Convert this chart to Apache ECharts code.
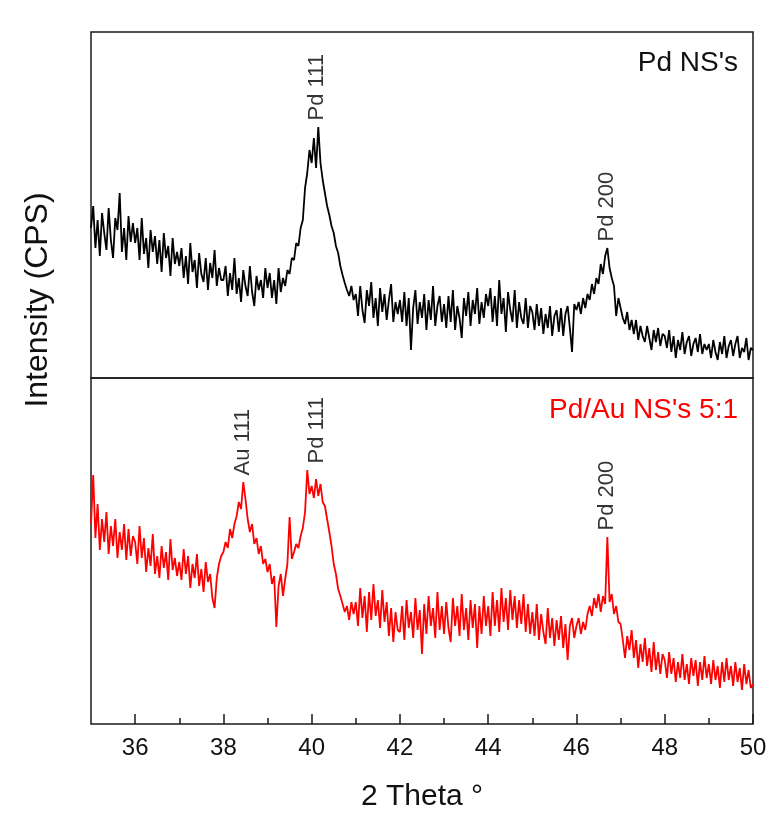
<!DOCTYPE html>
<html>
<head>
<meta charset="utf-8">
<script src="https://cdn.jsdelivr.net/npm/echarts@6/dist/echarts.min.js"></script>
<style>
html,body{margin:0;padding:0;background:#fff;}
#chart{width:775px;height:816px;}
</style>
</head>
<body>
<div id="chart"></div>
<script>
// 2-theta sampling grid: 35.00 .. 50.00, step 0.05
const thetaStart = 35;
const thetaStep = 0.05;
const thetaCount = 301;

// Intensity (arbitrary units), Pd NS's (black)
const pdNS = [
150,172,130,158,122,165,145,128,170,138,120,160,148,185,126,150,118,162,136,155,
135,150,118,160,124,140,110,148,126,142,114,138,106,145,120,132,102,140,114,126,
112,130,100,122,94,135,106,118,90,125,104,96,120,88,115,100,128,92,110,98,
98,112,82,105,88,120,84,100,76,108,92,82,112,86,72,102,88,98,80,110,
90,105,80,98,74,110,86,100,92,108,104,120,118,135,132,150,158,190,205,228,
215,240,210,251,215,198,185,172,163,152,145,132,125,112,103,95,88,82,92,78,
84,62,92,68,55,88,72,96,60,80,52,90,66,84,58,78,94,56,76,64,
78,56,86,52,80,28,70,88,54,76,60,84,48,78,58,92,52,72,82,56,
74,50,82,56,88,48,72,60,40,80,62,86,52,78,64,90,54,76,60,84,
72,90,56,82,52,98,64,80,46,86,68,56,88,50,76,60,54,80,50,72,
66,48,74,52,70,44,64,50,72,42,62,68,46,70,42,64,72,50,26,74,
68,76,64,80,70,84,78,94,84,100,94,114,104,122,130,110,100,92,62,80,
70,60,54,66,48,58,44,58,38,52,42,36,52,40,28,48,36,50,32,44,
42,30,48,26,42,20,38,28,46,24,36,42,22,34,40,26,44,24,34,28,
34,20,38,26,18,36,24,42,20,32,38,22,34,42,20,30,26,40,18,30,
28
];

// Intensity (arbitrary units), Pd/Au NS's 5:1 (red)
const pdAuNS = [
200,249,186,220,174,205,182,212,170,198,178,205,166,192,174,200,164,195,168,188,
182,160,198,166,186,152,176,158,190,150,168,146,178,156,172,144,185,154,166,148,
162,144,175,150,168,136,160,146,170,138,155,132,162,142,150,126,116,146,160,168,
172,182,176,195,186,200,208,222,215,242,225,205,192,200,180,186,170,178,160,165,
152,160,140,148,97,138,150,128,145,160,207,165,172,180,176,188,196,212,254,230,
238,226,245,228,240,222,218,205,192,178,160,150,135,128,120,112,118,104,122,110,
122,98,136,106,128,92,132,104,140,108,124,96,134,102,122,88,116,82,112,94,
92,118,84,124,96,112,86,126,94,114,70,120,90,128,98,116,86,132,94,118,
90,122,96,82,126,98,118,88,130,94,116,84,124,96,120,76,118,90,128,98,
118,88,132,98,124,92,136,102,126,94,134,104,128,96,124,100,130,92,120,90,
112,88,120,84,110,92,80,116,86,106,78,104,84,108,76,100,64,98,106,86,
98,106,90,102,94,110,118,108,126,116,130,112,128,120,187,122,130,110,118,102,
100,84,66,88,74,94,66,84,56,80,62,86,58,76,52,82,54,72,50,70,
64,46,72,50,66,42,62,46,70,44,60,40,66,48,64,38,62,44,68,46,
60,40,64,44,58,36,62,42,66,44,58,38,62,42,56,34,60,40,54,36,
40
];

// Peak annotations
const topPeakNames = ['Pd 111', 'Pd 200'];
const topPeakTheta = [40.12, 46.70];
const topPeakHeight = [251, 130];
const botPeakNames = ['Au 111', 'Pd 111', 'Pd 200'];
const botPeakTheta = [38.45, 40.12, 46.70];
const botPeakHeight = [242, 254, 187];

// Axis ticks
const majorTicks = [36, 38, 40, 42, 44, 46, 48, 50];
const minorTicks = [37, 39, 41, 43, 45, 47, 49];

const sampleNames = ["Pd NS's", "Pd/Au NS's 5:1"];
const xTitle = '2 Theta °';
const yTitle = 'Intensity (CPS)';

const theta = [];
for (let i = 0; i < thetaCount; i++) theta.push(+(thetaStart + i * thetaStep).toFixed(2));

const FONT = "'Liberation Sans', Arial, sans-serif";

const chart = echarts.init(document.getElementById('chart'), null, {renderer: 'canvas'});

const gridCommon = {left: 91, right: 22, height: 346, show: true, borderColor: '#1a1a1a', borderWidth: 1.5, backgroundColor: 'transparent'};

function peakSeries(names, th, h, xi, yi) {
  return {
    type: 'scatter', xAxisIndex: xi, yAxisIndex: yi, symbolSize: 1,
    itemStyle: {color: 'rgba(0,0,0,0)'}, silent: true,
    data: names.map((n, i) => ({name: n, value: [th[i], h[i]]})),
    label: {
      show: true, formatter: '{b}', position: 'top', distance: 6, rotate: 90,
      align: 'left', verticalAlign: 'middle', fontSize: 22, fontFamily: FONT, color: '#000'
    }
  };
}

chart.setOption({
  animation: false,
  backgroundColor: '#fff',
  title: [
    {text: sampleNames[0], right: 32, top: 44, textStyle: {fontSize: 28, fontWeight: 'normal', fontFamily: FONT, color: '#111'}},
    {text: sampleNames[1], right: 32, top: 391, textStyle: {fontSize: 28, fontWeight: 'normal', fontFamily: FONT, color: '#ff0000'}}
  ],
  grid: [
    Object.assign({top: 32}, gridCommon),
    Object.assign({top: 378}, gridCommon)
  ],
  xAxis: [
    {type: 'value', gridIndex: 0, min: 35, max: 50, show: false},
    {type: 'value', gridIndex: 1, min: 35, max: 50,
      axisLine: {show: false}, splitLine: {show: false},
      axisTick: {show: true, inside: true, length: 10, customValues: majorTicks, lineStyle: {color: '#1a1a1a', width: 1.5}},
      axisLabel: {show: true, customValues: majorTicks, margin: 12, fontSize: 24, fontFamily: FONT, color: '#111'},
      name: xTitle, nameLocation: 'middle', nameGap: 58,
      nameTextStyle: {fontSize: 30, fontFamily: FONT, color: '#111'}
    },
    {type: 'value', gridIndex: 1, min: 35, max: 50, position: 'bottom',
      axisLine: {show: false}, splitLine: {show: false}, axisLabel: {show: false},
      axisTick: {show: true, inside: true, length: 6, customValues: minorTicks, lineStyle: {color: '#1a1a1a', width: 1.5}}
    }
  ],
  yAxis: [
    {type: 'value', gridIndex: 0, min: 0, max: 346, show: false},
    {type: 'value', gridIndex: 1, min: 0, max: 346, show: false}
  ],
  graphic: [
    {type: 'text', x: 38, y: 300, rotation: Math.PI / 2,
      style: {text: yTitle, align: 'center', verticalAlign: 'middle', font: "32px 'Liberation Sans', Arial, sans-serif", fill: '#111'}}
  ],
  series: [
    {type: 'line', xAxisIndex: 0, yAxisIndex: 0, showSymbol: false, silent: true,
      data: theta.map((t, i) => [t, pdNS[i]]), lineStyle: {color: '#000', width: 1.8}},
    {type: 'line', xAxisIndex: 1, yAxisIndex: 1, showSymbol: false, silent: true,
      data: theta.map((t, i) => [t, pdAuNS[i]]), lineStyle: {color: '#ff0000', width: 1.8}},
    peakSeries(topPeakNames, topPeakTheta, topPeakHeight, 0, 0),
    peakSeries(botPeakNames, botPeakTheta, botPeakHeight, 1, 1)
  ]
});
</script>
</body>
</html>
